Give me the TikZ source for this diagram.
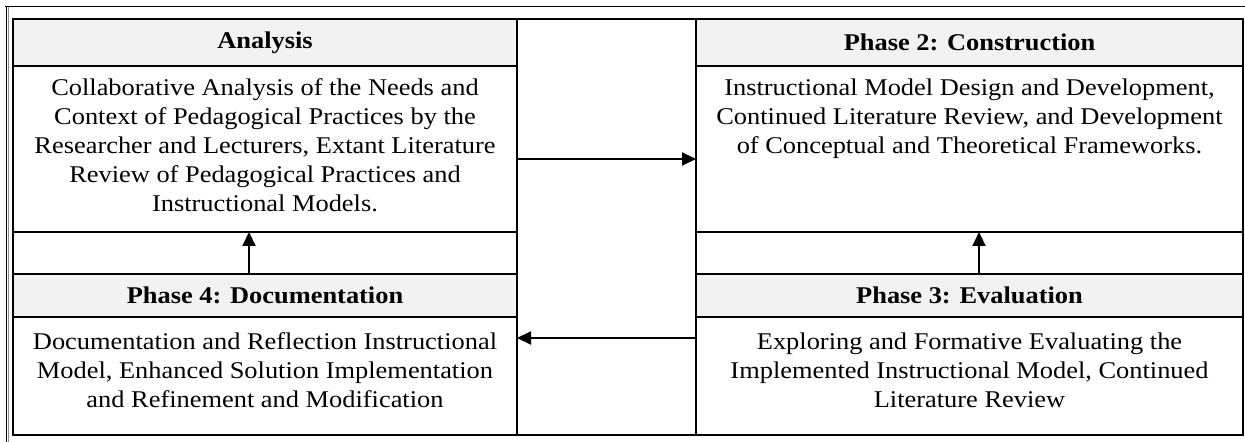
\documentclass[tikz,border=0pt]{standalone}
\usepackage{fontspec}
\setmainfont{Liberation Serif}[FakeStretch=1.1]
\usetikzlibrary{arrows.meta}
\definecolor{headgrey}{HTML}{F2F2F2}
\begin{document}
\begin{tikzpicture}[x=0.5pt,y=-0.5pt,
  cell/.style={draw=black,line width=1pt,inner sep=0pt,outer sep=0pt,anchor=north west},
  head/.style={cell,fill=headgrey,font=\fontsize{12}{14.5}\selectfont\bfseries},
  bodytext/.style={anchor=north,align=center,inner sep=0pt,font=\fontsize{12}{14.5}\selectfont},
  flow/.style={line width=1pt,-{Triangle[length=7pt,width=6.5pt]}}
]
% page extent
\useasboundingbox (0,0) rectangle (1245,442);
% outer frame
\draw[line width=0.7pt] (5,6.7) -- (1245,6.7);
\draw[line width=0.7pt] (6.3,6.7) -- (6.3,442);
\draw[line width=0.6pt,black!45] (8.6,6.7) -- (8.6,442);

% left column
\node[head, minimum width=252pt, minimum height=23.5pt] (hA) at (13,19) {Analysis};
\node[cell, minimum width=252pt, minimum height=83pt]   (bA) at (13,66) {};
\node[cell, minimum width=252pt, minimum height=21pt]   (gL) at (13,232) {};
\node[head, minimum width=252pt, minimum height=21.5pt] (hD) at (13,274) {Phase 4: Documentation};
\node[cell, minimum width=252pt, minimum height=59pt]   (bD) at (13,317) {};

% middle column
\node[cell, minimum width=89.5pt, minimum height=208pt] (mid) at (517,19) {};

% right column
\node[head, minimum width=273.5pt, minimum height=23.5pt] (hC) at (696,19) {Phase 2: Construction};
\node[cell, minimum width=273.5pt, minimum height=83pt]   (bC) at (696,66) {};
\node[cell, minimum width=273.5pt, minimum height=21pt]   (gR) at (696,232) {};
\node[head, minimum width=273.5pt, minimum height=21.5pt] (hE) at (696,274) {Phase 3: Evaluation};
\node[cell, minimum width=273.5pt, minimum height=59pt]   (bE) at (696,317) {};

% cell texts
\node[bodytext] (tA) at (265,78) {Collaborative Analysis of the Needs and\\
  Context of Pedagogical Practices by the\\
  Researcher and Lecturers, Extant Literature\\
  Review of Pedagogical Practices and\\
  Instructional Models.};
\node[bodytext] (tC) at (969.5,78) {Instructional Model Design and Development,\\
  Continued Literature Review, and Development\\
  of Conceptual and Theoretical Frameworks.};
\node[bodytext] (tD) at (265,332) {Documentation and Reflection Instructional\\
  Model, Enhanced Solution Implementation\\
  and Refinement and Modification};
\node[bodytext] (tE) at (969.5,332) {Exploring and Formative Evaluating the\\
  Implemented Instructional Model, Continued\\
  Literature Review};

% connectors
\coordinate (yTop) at (0,159);
\coordinate (yBot) at (0,338);
\coordinate (xL) at (249,0);
\coordinate (xR) at (979,0);
\draw[flow] (bA.east |- yTop) -- (bC.west |- yTop);
\draw[flow] (bE.west |- yBot) -- (bD.east |- yBot);
\draw[flow] (hD.north -| xL) -- (gL.north -| xL);
\draw[flow] (hE.north -| xR) -- (gR.north -| xR);
\end{tikzpicture}
\end{document}
